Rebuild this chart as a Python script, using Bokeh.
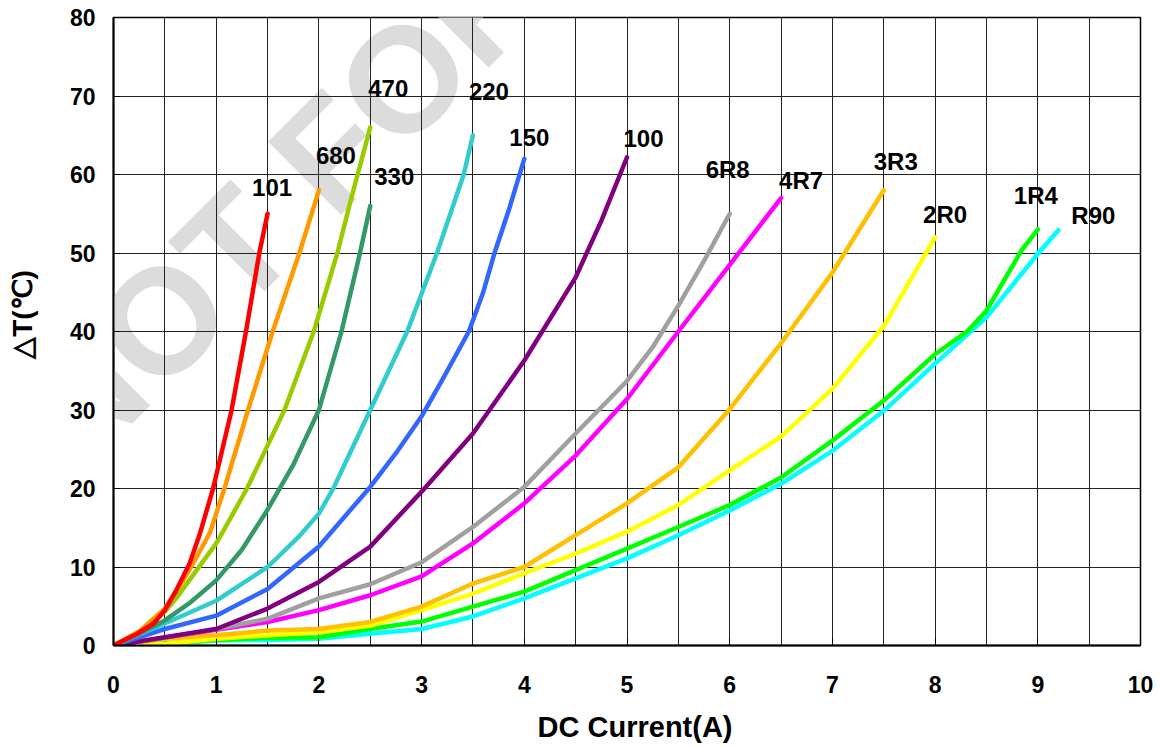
import numpy as np
from bokeh.plotting import figure
from bokeh.models import FixedTicker, Label, Range1d, ColumnDataSource
from bokeh.core.properties import value
from bokeh.embed import file_html
from bokeh.resources import INLINE

# ---------------- data ----------------
x_101 = [0, 0.23, 0.39, 0.5, 0.61, 0.74, 0.84, 0.97, 1.06, 1.15, 1.29, 1.42, 1.5]
y_101 = [0, 1.5, 2.8, 4.5, 7.0, 10.4, 14.2, 20, 25, 30, 40, 50, 55]
x_680 = [0, 0.25, 0.5, 0.68, 0.81, 0.94, 1.08, 1.31, 1.55, 1.81, 1.97, 2.0]
y_680 = [0, 1.8, 4.7, 8.3, 11.3, 14.4, 20, 30, 40, 50, 56.7, 58]
x_470 = [0, 0.25, 0.5, 0.61, 0.81, 1.0, 1.07, 1.3, 1.665, 1.95, 2.18, 2.31, 2.5]
y_470 = [0, 1.7, 4.3, 6.0, 9.6, 13.0, 14.6, 20, 30, 40, 50, 56.7, 66]
x_330 = [0, 0.25, 0.5, 0.75, 1.0, 1.25, 1.5, 1.75, 2.0, 2.22, 2.4, 2.5]
y_330 = [0, 1.5, 3.2, 5.5, 8.3, 12.2, 17.3, 23.0, 30, 40, 50, 56]
x_220 = [0, 0.5, 1.0, 1.5, 1.8, 2.0, 2.14, 2.5, 2.86, 3.15, 3.41, 3.5]
y_220 = [0, 2.8, 5.7, 10.0, 13.8, 16.8, 20, 30, 40, 50, 60, 65]
x_150 = [0, 0.5, 1.0, 1.5, 2.0, 2.5, 2.75, 3.0, 3.2, 3.46, 3.6, 3.71, 3.85, 4.0]
y_150 = [0, 2.1, 3.8, 7.2, 12.6, 20.2, 24.5, 29.2, 33.8, 40, 45, 50, 55.5, 62]
x_100 = [0, 0.5, 1.0, 1.5, 2.0, 2.5, 3.0, 3.5, 4.0, 4.5, 4.75, 5.0]
y_100 = [0, 1.06, 2.1, 4.7, 8.1, 12.6, 19.6, 27.0, 36.3, 46.9, 54.1, 62.2]
x_6R8 = [0, 0.5, 1.0, 1.5, 2.0, 2.5, 3.0, 3.5, 4.0, 4.5, 5.0, 5.25, 5.5, 5.75, 6.0]
y_6R8 = [0, 1.0, 2.1, 3.4, 6.0, 7.8, 10.6, 15.1, 20.2, 27.0, 33.7, 38.0, 43.3, 49.0, 55]
x_4R7 = [0, 0.5, 1.0, 1.5, 2.0, 2.5, 3.0, 3.5, 4.0, 4.5, 5.0, 5.5, 6.0, 6.5]
y_4R7 = [0, 1.0, 2.0, 3.0, 4.5, 6.4, 8.8, 13.0, 18.1, 24.2, 31.4, 40, 48.5, 57]
x_3R3 = [0, 0.5, 1.0, 1.5, 2.0, 2.5, 3.0, 3.5, 4.0, 4.5, 5.0, 5.5, 6.0, 6.5, 7.0, 7.5]
y_3R3 = [0, 0.85, 1.3, 1.9, 2.1, 3.0, 4.95, 7.9, 10.0, 14.05, 18.1, 22.7, 30.1, 38.5, 47.5, 58]
x_2R0 = [0, 0.3, 0.5, 1.0, 1.5, 2.0, 2.5, 3.0, 3.5, 4.0, 4.5, 5.0, 5.5, 6.0, 6.5, 7.0, 7.5, 8.0]
y_2R0 = [0, 0.05, 0.2, 0.85, 1.3, 1.7, 2.55, 4.5, 6.6, 9.2, 11.7, 14.5, 17.9, 22.3, 26.6, 32.7, 40.7, 52]
x_1R4 = [0, 0.5, 1.0, 1.5, 2.0, 2.5, 3.0, 3.5, 4.0, 4.5, 5.0, 5.5, 6.0, 6.5, 7.0, 7.5, 8.0, 8.32, 8.5, 8.84, 9.0]
y_1R4 = [0, 0.25, 0.7, 1.0, 1.06, 2.1, 3.05, 4.95, 6.86, 9.6, 12.35, 15.1, 17.9, 21.4, 26.1, 31.2, 37.1, 40.1, 42.65, 50.3, 53]
x_R90 = [0, 0.5, 1.0, 1.5, 2.0, 2.5, 3.0, 3.5, 4.0, 4.5, 5.0, 5.5, 6.0, 6.5, 7.0, 7.5, 8.0, 8.5, 9.0, 9.2]
y_R90 = [0, 0.2, 0.64, 0.7, 0.85, 1.5, 2.1, 3.7, 6.0, 8.55, 11.1, 14.05, 17.2, 20.6, 24.8, 29.9, 35.9, 41.8, 49.9, 52.9]

series_names = ["R90", "1R4", "2R0", "3R3", "4R7", "6R8", "100", "150", "220", "330", "470", "680", "101"]
series_x = [x_R90, x_1R4, x_2R0, x_3R3, x_4R7, x_6R8, x_100, x_150, x_220, x_330, x_470, x_680, x_101]
series_y = [y_R90, y_1R4, y_2R0, y_3R3, y_4R7, y_6R8, y_100, y_150, y_220, y_330, y_470, y_680, y_101]

x_ticks = [0, 1, 2, 3, 4, 5, 6, 7, 8, 9, 10]
y_ticks = [0, 10, 20, 30, 40, 50, 60, 70, 80]
x_title = "DC Current(A)"
y_title = "△T(℃)"
watermark = "NOT FOR"

# ---------------- styling ----------------
colors = {
    "101": "#FF0000", "680": "#FF9900", "470": "#99CC00", "330": "#339966",
    "220": "#33CCCC", "150": "#3366FF", "100": "#800080", "6R8": "#A0A0A0",
    "4R7": "#FF00FF", "3R3": "#FFC000", "2R0": "#FFFF00", "1R4": "#00FF00",
    "R90": "#00FFFF",
}
# label offsets from each curve's end point, in screen pixels
label_offsets = {
    "101": (4.5, -26), "680": (17, -35), "470": (18, -39), "330": (24, -29),
    "220": (16, -44), "150": (5, -21), "100": (16.5, -19), "6R8": (-2, -44),
    "4R7": (20, -18), "3R3": (12, -29), "2R0": (10, -22.5), "1R4": (-2, -34),
    "R90": (35, -15),
}

FONT = "Liberation Sans"
NBSP = "\u00a0"

p = figure(width=1160, height=747, output_backend="svg", toolbar_location=None,
           x_range=Range1d(0, 10), y_range=Range1d(0, 80),
           min_border_left=113, min_border_right=20, min_border_top=17,
           min_border_bottom=102)
p.background_fill_color = "white"
p.border_fill_color = "white"
p.outline_line_color = "black"
p.outline_line_width = 1.5

# watermark, beneath grid and curves
p.add_layout(Label(x=-0.677, y=26.4, text=watermark, angle=np.pi / 4,
                   text_font=FONT, text_font_style="bold",
                   text_font_size="150px", text_color="#DCDCDC",
                   text_align="left", text_baseline="alphabetic",
                   level="image"))

# grid
p.xgrid.ticker = FixedTicker(ticks=list(np.arange(0, 10.01, 0.5)))
p.ygrid.ticker = FixedTicker(ticks=y_ticks)
for g in (p.xgrid, p.ygrid):
    g.grid_line_color = "#222222"
    g.grid_line_width = 1

# axes
p.xaxis.ticker = FixedTicker(ticks=x_ticks)
p.yaxis.ticker = FixedTicker(ticks=y_ticks)
for ax in (p.xaxis, p.yaxis):
    ax.axis_line_color = "black"
    ax.axis_line_width = 2
    ax.major_tick_in = 7
    ax.major_tick_out = 0
    ax.minor_tick_in = 0
    ax.minor_tick_out = 0
    ax.major_tick_line_color = "black"
    ax.major_label_text_font = FONT
    ax.major_label_text_font_style = "bold"
    ax.major_label_text_font_size = "23px"
    ax.major_label_text_color = "black"
    ax.axis_label_text_font = FONT
    ax.axis_label_text_font_style = "bold"
    ax.axis_label_text_color = "black"
p.xaxis.major_label_standoff = 30
p.yaxis.major_label_standoff = 18

p.xaxis.axis_label = NBSP * 2 + x_title
p.xaxis.axis_label_text_font_size = "29px"
p.xaxis.axis_label_standoff = 15

p.yaxis.axis_label = NBSP * 4 + y_title
p.yaxis.axis_label_text_font_size = "28px"
p.yaxis.axis_label_standoff = 29

# curves
for name, xs, ys in zip(series_names, series_x, series_y):
    p.line(xs, ys, line_color=colors[name], line_width=4.5,
           line_join="round", line_cap="round")

# end labels
lab = ColumnDataSource(dict(
    x=[xs[-1] for xs in series_x],
    y=[ys[-1] for ys in series_y],
    text=series_names,
    xo=[label_offsets[n][0] for n in series_names],
    yo=[label_offsets[n][1] for n in series_names],
))
p.text(x="x", y="y", text="text", x_offset="xo", y_offset="yo", source=lab,
       text_font=value(FONT), text_font_style="bold", text_font_size="24px",
       text_color="black", text_align="center", text_baseline="middle")

open("out.html", "w").write(file_html(p, INLINE))
